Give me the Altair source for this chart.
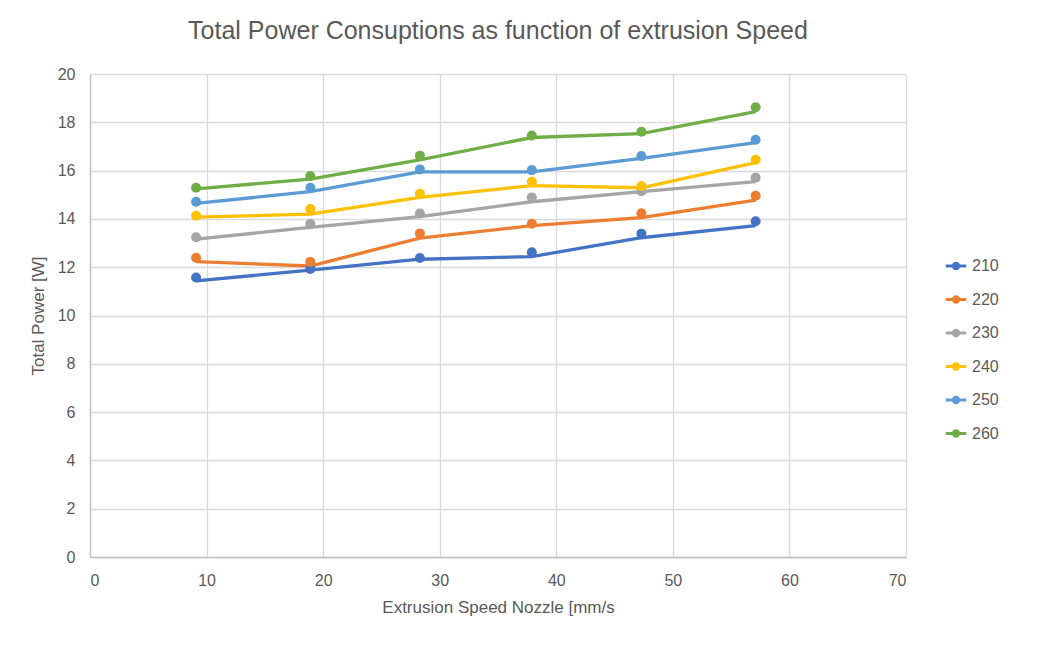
import altair as alt
import pandas as pd

# ---- data ----
speeds = [9.1, 18.9, 28.3, 37.9, 47.3, 57.1]
series = ["210", "220", "230", "240", "250", "260"]

# marker values [W]
m_210 = [11.57, 11.93, 12.38, 12.62, 13.39, 13.90]
m_220 = [12.39, 12.22, 13.40, 13.80, 14.23, 14.96]
m_230 = [13.24, 13.80, 14.22, 14.89, 15.15, 15.71]
m_240 = [14.13, 14.41, 15.04, 15.54, 15.36, 16.45]
m_250 = [14.71, 15.29, 16.05, 16.02, 16.60, 17.28]
m_260 = [15.29, 15.78, 16.62, 17.45, 17.61, 18.62]

# connecting line values [W]
l_210 = [11.43, 11.88, 12.33, 12.44, 13.22, 13.72]
l_220 = [12.23, 12.05, 13.20, 13.72, 14.05, 14.78]
l_230 = [13.16, 13.65, 14.09, 14.71, 15.13, 15.54]
l_240 = [14.07, 14.20, 14.89, 15.38, 15.29, 16.33]
l_250 = [14.64, 15.13, 15.95, 15.95, 16.51, 17.16]
l_260 = [15.24, 15.65, 16.44, 17.37, 17.53, 18.44]

colors = ["#4472C4", "#ED7D31", "#A5A5A5", "#FFC000", "#5B9BD5", "#70AD47"]

markers = [m_210, m_220, m_230, m_240, m_250, m_260]
lines = [l_210, l_220, l_230, l_240, l_250, l_260]

rows_m, rows_l = [], []
for s, mv, lv in zip(series, markers, lines):
    for i, x in enumerate(speeds):
        rows_m.append({"series": s, "speed": x, "power": mv[i], "order": i})
        rows_l.append({"series": s, "speed": x, "power": lv[i], "order": i})
df_m = pd.DataFrame(rows_m)
df_l = pd.DataFrame(rows_l)

FONT = "Liberation Sans"
GREY = "#595959"

x_enc = alt.X("speed:Q", scale=alt.Scale(domain=[0, 70], nice=False),
              axis=alt.Axis(values=list(range(0, 71, 10)), title="Extrusion Speed Nozzle [mm/s",
                            titlePadding=11))
y_enc = alt.Y("power:Q", scale=alt.Scale(domain=[0, 20], nice=False),
              axis=alt.Axis(values=list(range(0, 21, 2)), title="Total Power [W]",
                            titlePadding=10))

path = "M-1,0L1,0M-0.26,0A0.26,0.26 0 1,1 0.26,0A0.26,0.26 0 1,1 -0.26,0Z"
leg = alt.Legend(title=None, orient="none", legendX=854, legendY=180,
                 symbolType=path, symbolSize=420, symbolStrokeWidth=3,
                 labelFontSize=16, labelColor=GREY, labelFont=FONT,
                 labelOffset=4, rowPadding=12.5)

scale = alt.Scale(domain=series, range=colors)

line_layer = alt.Chart(df_l).mark_line(strokeWidth=3.3).encode(
    x=x_enc, y=y_enc,
    stroke=alt.Stroke("series:N", scale=scale, legend=leg),
    detail="series:N",
    order="order:Q",
)
point_layer = alt.Chart(df_m).mark_point(filled=True, size=100, opacity=1).encode(
    x=x_enc, y=y_enc,
    fill=alt.Fill("series:N", scale=scale, legend=leg),
)

chart = alt.layer(line_layer, point_layer).properties(
    width=816, height=483,
    title=alt.TitleParams("Total Power Consuptions as function of extrusion Speed",
                          font=FONT, fontSize=25, fontWeight="normal", color=GREY,
                          anchor="middle", offset=22),
    autosize=alt.AutoSizeParams(type="none"),
    padding={"left": 82, "top": 66, "right": 120, "bottom": 80},
).configure_view(stroke=None).configure_axis(
    labelFont=FONT, titleFont=FONT, labelFontSize=16, titleFontSize=17,
    labelColor=GREY, titleColor=GREY, titleFontWeight="normal",
    gridColor="#D9D9D9", gridWidth=1.3, domainColor="#BFBFBF", domainWidth=1.3,
    ticks=False,
).configure_axisX(labelPadding=15, domain=True).configure_axisY(labelPadding=15)

chart.save("out.html", embed_options={"renderer": "svg", "actions": False})
